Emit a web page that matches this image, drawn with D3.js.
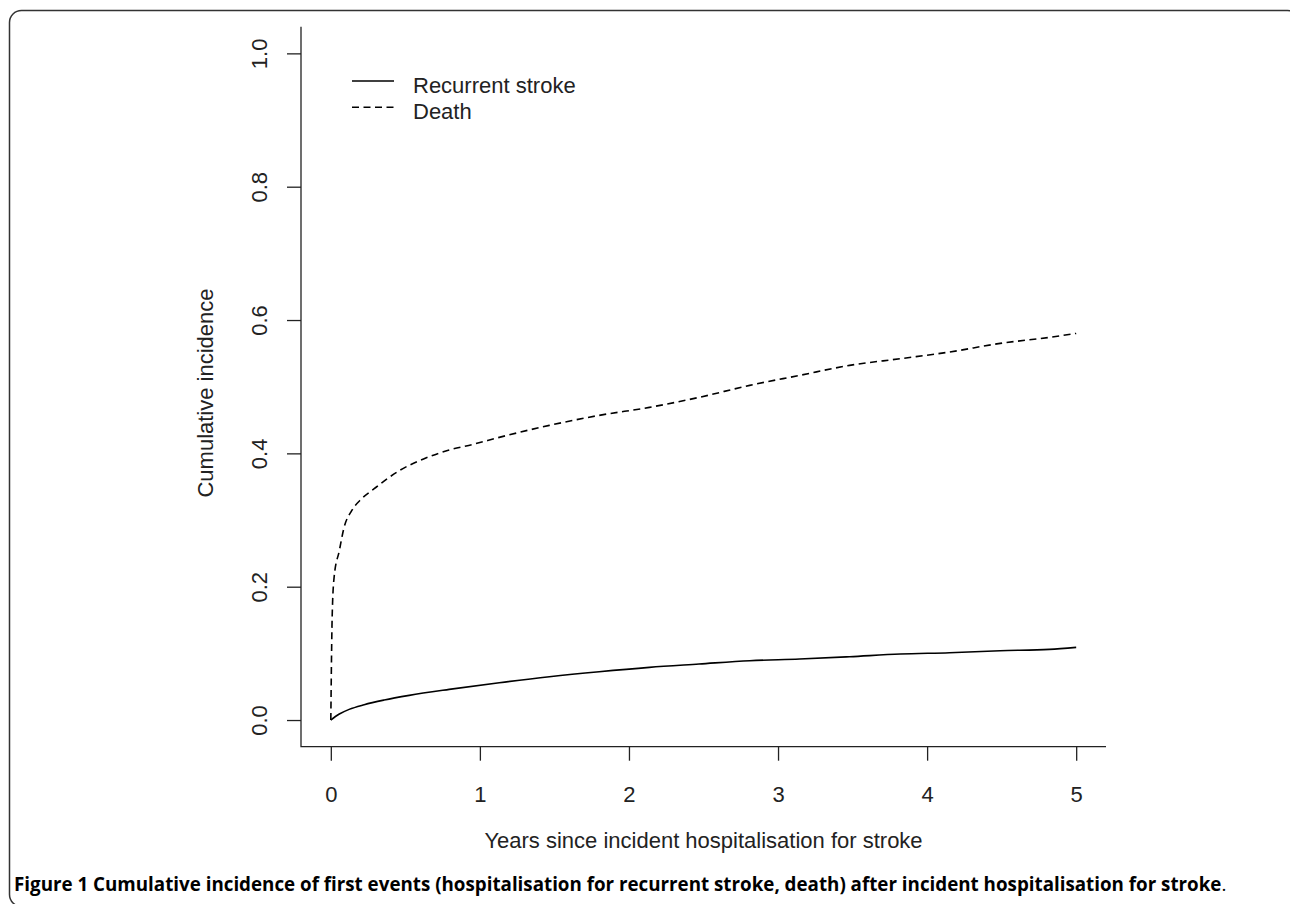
<!DOCTYPE html>
<html>
<head>
<meta charset="utf-8">
<script src="https://cdn.jsdelivr.net/npm/d3@7"></script>
<style>
  body { margin: 0; background: #fff; }
  .axis text { font-family: "Liberation Sans", Arial, sans-serif; font-size: 22px; fill: #222; }
  .axis line { stroke: #222; stroke-width: 1.3; }
</style>
</head>
<body>
<div class="chart"></div>
<script>
// years since incident hospitalisation, and cumulative incidence
var deathYears = [0, 0.009, 0.022, 0.057, 0.089, 0.14, 0.207, 0.291, 0.459, 0.626, 0.794, 0.962,
                  1.13, 1.466, 1.8, 2.137, 2.47, 2.81, 3.145, 3.48, 3.82, 4.15, 4.49, 4.82, 5.0];
var deathCum = [0, 0.154, 0.214, 0.254, 0.289, 0.314, 0.332, 0.347, 0.374, 0.392, 0.405, 0.414,
                0.424, 0.442, 0.457, 0.469, 0.484, 0.502, 0.517, 0.532, 0.542, 0.552, 0.565, 0.574, 0.58];

var strokeYears = [0, 0.057, 0.123, 0.224, 0.358, 0.526, 0.794, 1.13, 1.466, 1.8, 2.137,
                   2.47, 2.81, 3.145, 3.48, 3.82, 4.15, 4.49, 4.82, 5.0];
var strokeCum = [0, 0.009, 0.016, 0.023, 0.030, 0.037, 0.046, 0.056, 0.065, 0.0725, 0.079,
                 0.084, 0.089, 0.0915, 0.095, 0.099, 0.101, 0.104, 0.106, 0.109];

var xTicks = [0, 1, 2, 3, 4, 5];
var yTicks = [0, 0.2, 0.4, 0.6, 0.8, 1.0];
var seriesNames = ["Recurrent stroke", "Death"];

var width = 1290, height = 904;

var svg = d3.select(".chart").append("svg")
    .attr("width", width)
    .attr("height", height);

// panel frame (right and bottom edges run off the page)
svg.append("rect")
    .attr("x", 9.5).attr("y", 10.5)
    .attr("width", 1290).attr("height", 896)
    .attr("rx", 12).attr("ry", 12)
    .attr("fill", "none")
    .attr("stroke", "#333")
    .attr("stroke-width", 1.5);

// R-style usr range: 4% padding on both sides
var x = d3.scaleLinear().domain([-0.2, 5.2]).range([301, 1106]);
var y = d3.scaleLinear().domain([-0.04, 1.04]).range([746.7, 26.7]);

// L-shaped box
svg.append("path")
    .attr("d", "M" + x(-0.2) + "," + y(1.04) + "V" + y(-0.04) + "H" + x(5.2))
    .attr("fill", "none")
    .attr("stroke", "#222")
    .attr("stroke-width", 1.3);

var xAxis = svg.append("g")
    .attr("class", "axis")
    .attr("transform", "translate(0," + y(-0.04) + ")")
    .call(d3.axisBottom(x).tickValues(xTicks).tickSize(14).tickPadding(0).tickFormat(d3.format("d")));
xAxis.select(".domain").remove();
xAxis.selectAll("text").attr("y", 55).attr("dy", 0);

var yAxis = svg.append("g")
    .attr("class", "axis")
    .attr("transform", "translate(" + x(-0.2) + ",0)")
    .call(d3.axisLeft(y).tickValues(yTicks).tickSize(14).tickFormat(d3.format(".1f")));
yAxis.select(".domain").remove();
yAxis.selectAll("text")
    .attr("transform", "rotate(-90)")
    .attr("text-anchor", "middle")
    .attr("x", 0)
    .attr("y", -34)
    .attr("dy", 0);

// axis titles
svg.append("text")
    .attr("x", (x(-0.2) + x(5.2)) / 2)
    .attr("y", 848)
    .attr("text-anchor", "middle")
    .attr("font-family", "Liberation Sans, Arial, sans-serif")
    .attr("font-size", 22)
    .attr("fill", "#222")
    .text("Years since incident hospitalisation for stroke");

svg.append("text")
    .attr("transform", "translate(213,393) rotate(-90)")
    .attr("text-anchor", "middle")
    .attr("font-family", "Liberation Sans, Arial, sans-serif")
    .attr("font-size", 22)
    .attr("fill", "#222")
    .text("Cumulative incidence");

// curves
var line = d3.line()
    .x(function(d) { return x(d[0]); })
    .y(function(d) { return y(d[1]); })
    .curve(d3.curveMonotoneX);

svg.append("path")
    .datum(d3.zip(strokeYears, strokeCum))
    .attr("d", line)
    .attr("fill", "none")
    .attr("stroke", "#000")
    .attr("stroke-width", 1.6);

svg.append("path")
    .datum(d3.zip(deathYears, deathCum))
    .attr("d", line)
    .attr("fill", "none")
    .attr("stroke", "#000")
    .attr("stroke-width", 1.6)
    .attr("stroke-dasharray", "7,4.5");

// legend
var legend = svg.append("g")
    .selectAll("g")
    .data(seriesNames)
    .enter().append("g")
    .attr("transform", function(d, i) { return "translate(0," + (81 + i * 26.3) + ")"; });

legend.append("line")
    .attr("x1", 352).attr("x2", 394)
    .attr("stroke", "#000")
    .attr("stroke-width", 1.5)
    .attr("stroke-dasharray", function(d, i) { return i === 1 ? "7,4.5" : null; });

legend.append("text")
    .attr("x", 413)
    .attr("y", 11.7)
    .attr("font-family", "Liberation Sans, Arial, sans-serif")
    .attr("font-size", 22)
    .attr("fill", "#222")
    .text(function(d) { return d; });

// caption: bold body, plain full stop; font size fitted to the reference width
var caption = svg.append("text")
    .attr("x", 14)
    .attr("y", 891)
    .attr("font-family", "Open Sans, sans-serif")
    .attr("font-size", 19)
    .attr("fill", "#000");
caption.append("tspan")
    .attr("font-weight", "bold")
    .text("Figure 1 Cumulative incidence of first events (hospitalisation for recurrent stroke, death) after incident hospitalisation for stroke");
caption.append("tspan").text(".");
var capLen = caption.node().getComputedTextLength();
caption.attr("font-size", 19 * 1213 / capLen);
</script>
</body>
</html>
